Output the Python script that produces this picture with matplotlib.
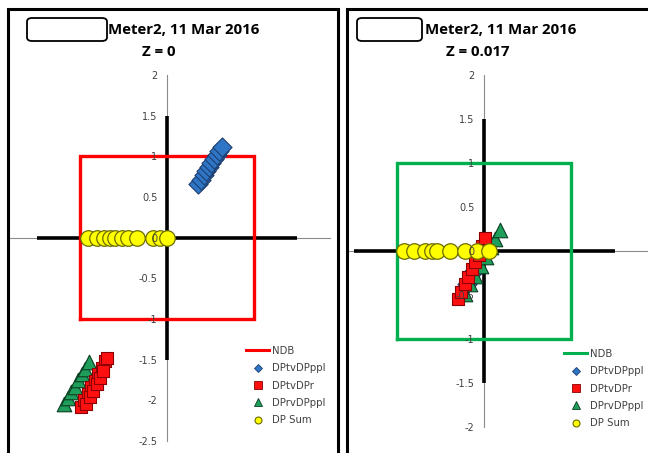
import matplotlib
matplotlib.use("Agg")
import matplotlib.pyplot as plt
from matplotlib.patches import Rectangle, FancyBboxPatch
from matplotlib.lines import Line2D

W, H = 648, 453

# ---------------- data ----------------
titles = ["Meter2, 11 Mar 2016", "Meter2, 11 Mar 2016"]
subtitles = ["Z = 0", "Z = 0.017"]
series_names = ["NDB", "DPtvDPppl", "DPtvDPr", "DPrvDPppl", "DP Sum"]
yticks_left = [-2.5, -2, -1.5, -1, -0.5, 0, 0.5, 1, 1.5, 2]
yticks_right = [-2, -1.5, -1, -0.5, 0, 0.5, 1, 1.5, 2]
ndb_x = [-1, 1, 1, -1, -1]
ndb_y = [-1, -1, 1, 1, -1]
axis_x = [-1.5, 1.5]
axis_y = [-1.5, 1.5]

# left panel (Z = 0)
L_blue_x = [0.36, 0.39, 0.42, 0.45, 0.48, 0.51, 0.54, 0.57, 0.60, 0.63]
L_blue_y = [0.66, 0.71, 0.77, 0.82, 0.87, 0.92, 0.97, 1.02, 1.07, 1.11]
L_red_x = [-0.99, -0.95, -0.91, -0.87, -0.83, -0.79, -0.75, -0.71,
           -0.93, -0.89, -0.85, -0.81, -0.77, -0.73, -0.69]
L_red_y = [-2.08, -2.00, -1.92, -1.84, -1.76, -1.68, -1.60, -1.52,
           -2.04, -1.96, -1.88, -1.80, -1.72, -1.64, -1.48]
L_green_x = [-1.18, -1.14, -1.10, -1.06, -1.02, -0.98, -0.94, -0.90]
L_green_y = [-2.04, -1.97, -1.90, -1.83, -1.75, -1.68, -1.61, -1.53]
L_sum_x = [-0.91, -0.80, -0.72, -0.66, -0.60, -0.52, -0.45, -0.34, -0.16, -0.08, 0.0]
L_sum_y = [0, 0, 0, 0, 0, 0, 0, 0, 0, 0, 0]

# right panel (Z = 0.017)
R_blue_x = [-0.20, -0.12, -0.04, 0.04]
R_blue_y = [-0.38, -0.23, -0.08, 0.07]
R_red_x = [-0.30, -0.26, -0.22, -0.18, -0.14, -0.10, -0.06, -0.02, 0.01]
R_red_y = [-0.55, -0.47, -0.38, -0.30, -0.21, -0.12, -0.04, 0.06, 0.15]
R_green_x = [-0.22, -0.16, -0.10, -0.04, 0.02, 0.08, 0.13, 0.18]
R_green_y = [-0.49, -0.38, -0.28, -0.17, -0.07, 0.04, 0.14, 0.24]
R_sum_x = [-0.92, -0.80, -0.68, -0.60, -0.54, -0.39, -0.22, -0.08, 0.06]
R_sum_y = [0, 0, 0, 0, 0, 0, 0, 0, 0]

panels = [
    dict(blue=(L_blue_x, L_blue_y), red=(L_red_x, L_red_y), green=(L_green_x, L_green_y),
         sum=(L_sum_x, L_sum_y), ndb_color="#FF0000", yticks=yticks_left),
    dict(blue=(R_blue_x, R_blue_y), red=(R_red_x, R_red_y), green=(R_green_x, R_green_y),
         sum=(R_sum_x, R_sum_y), ndb_color="#00B050", yticks=yticks_right),
]

# ---------------- layout (pixels) ----------------
geo = [
    dict(l=10, r=330, t=75, b=441, x0=167, sx=87.0, ylim=(-2.5, 2),
         frame=(8, 338), box=(27, 107), text_x=108, sub_x=159,
         leg=(246, 346)),
    dict(l=347, r=648, t=75, b=427, x0=484, sx=87.0, ylim=(-2, 2),
         frame=(347, 652), box=(357, 422), text_x=425, sub_x=478,
         leg=(564, 349)),
]

fig = plt.figure(figsize=(W / 100, H / 100), dpi=100)
fig.patch.set_facecolor("white")

blue_face, blue_edge = "#2E75C6", "#1F3F6F"
red_face, red_edge = "#FF1010", "#8B0000"
green_face, green_edge = "#1E9E5A", "#0B3D22"
yel_face, yel_edge = "#FFFF00", "#6B6B00"

for p, g, title, sub in zip(panels, geo, titles, subtitles):
    ax = fig.add_axes([g["l"] / W, 1 - g["b"] / H, (g["r"] - g["l"]) / W, (g["b"] - g["t"]) / H])
    ax.set_xlim((g["l"] - g["x0"]) / g["sx"], (g["r"] - g["x0"]) / g["sx"])
    ax.set_ylim(*g["ylim"])
    ax.patch.set_alpha(0)
    for s in ["top", "right"]:
        ax.spines[s].set_visible(False)
    ax.spines["left"].set_position(("data", 0))
    ax.spines["bottom"].set_position(("data", 0))
    for s in ["left", "bottom"]:
        ax.spines[s].set_color("#8C8C8C")
        ax.spines[s].set_linewidth(0.8)
        ax.spines[s].set_zorder(1)
    ax.set_yticks(p["yticks"])
    ax.set_yticklabels([f"{v:g}" for v in p["yticks"]], fontsize=7, color="#404040",
                       family="DejaVu Sans")
    ax.tick_params(axis="y", length=0, pad=7)
    ax.set_xticks([])
    ax.yaxis.set_zorder(10)

    # thick black axis cross
    ax.plot(axis_x, [0, 0], color="black", lw=2.6, zorder=2, solid_capstyle="butt")
    ax.plot([0, 0], axis_y, color="black", lw=2.6, zorder=2, solid_capstyle="butt")
    # NDB box
    ax.plot(ndb_x, ndb_y, color=p["ndb_color"], lw=2.4, zorder=3, solid_joinstyle="miter")

    ax.scatter(*p["blue"], marker="D", s=95, facecolor=blue_face, edgecolor=blue_edge,
               linewidth=0.8, zorder=4)
    ax.scatter(*p["green"], marker="^", s=110, facecolor=green_face, edgecolor=green_edge,
               linewidth=0.8, zorder=5)
    ax.scatter(*p["red"], marker="s", s=85, facecolor=red_face, edgecolor=red_edge,
               linewidth=0.8, zorder=6)
    ax.scatter(*p["sum"], marker="o", s=125, facecolor=yel_face, edgecolor=yel_edge,
               linewidth=0.9, zorder=7)

    handles = [
        Line2D([], [], color=p["ndb_color"], lw=2.2),
        Line2D([], [], ls="none", marker="D", ms=4.5, mfc=blue_face, mec=blue_edge, mew=0.6),
        Line2D([], [], ls="none", marker="s", ms=5.5, mfc=red_face, mec=red_edge, mew=0.6),
        Line2D([], [], ls="none", marker="^", ms=6, mfc=green_face, mec=green_edge, mew=0.6),
        Line2D([], [], ls="none", marker="o", ms=5, mfc=yel_face, mec=yel_edge, mew=0.8),
    ]
    lx, ly = g["leg"]
    leg = ax.legend(handles, series_names, loc="upper left",
                    bbox_to_anchor=(lx / W, 1 - ly / H), bbox_transform=fig.transFigure,
                    frameon=False, fontsize=7.3, handlelength=2.3, handletextpad=0.3,
                    labelspacing=0.72, borderpad=0, borderaxespad=0)
    for t in leg.get_texts():
        t.set_color("#404040")

    # panel frame
    fx0, fx1 = g["frame"]
    fig.patches.append(Rectangle((fx0 / W, -0.05), (fx1 - fx0) / W, 1.05 - 9 / H,
                                 transform=fig.transFigure, fill=False,
                                 edgecolor="black", lw=2.2, zorder=0))
    # redaction box
    bx0, bx1 = g["box"]
    fig.patches.append(FancyBboxPatch((bx0 / W, 1 - 41 / H), (bx1 - bx0) / W, 23 / H,
                                      boxstyle="round,pad=0,rounding_size=0.008",
                                      transform=fig.transFigure, fill=False,
                                      edgecolor="black", lw=1.3))
    fig.text(g["text_x"] / W, 1 - 30 / H, title, fontsize=10.8, fontweight="bold",
             family="Open Sans", ha="left", va="center", color="black")
    fig.text(g["sub_x"] / W, 1 - 52 / H, sub, fontsize=10.8, fontweight="bold",
             family="Open Sans", ha="center", va="center", color="black")

fig.savefig("out.png", dpi=100)
